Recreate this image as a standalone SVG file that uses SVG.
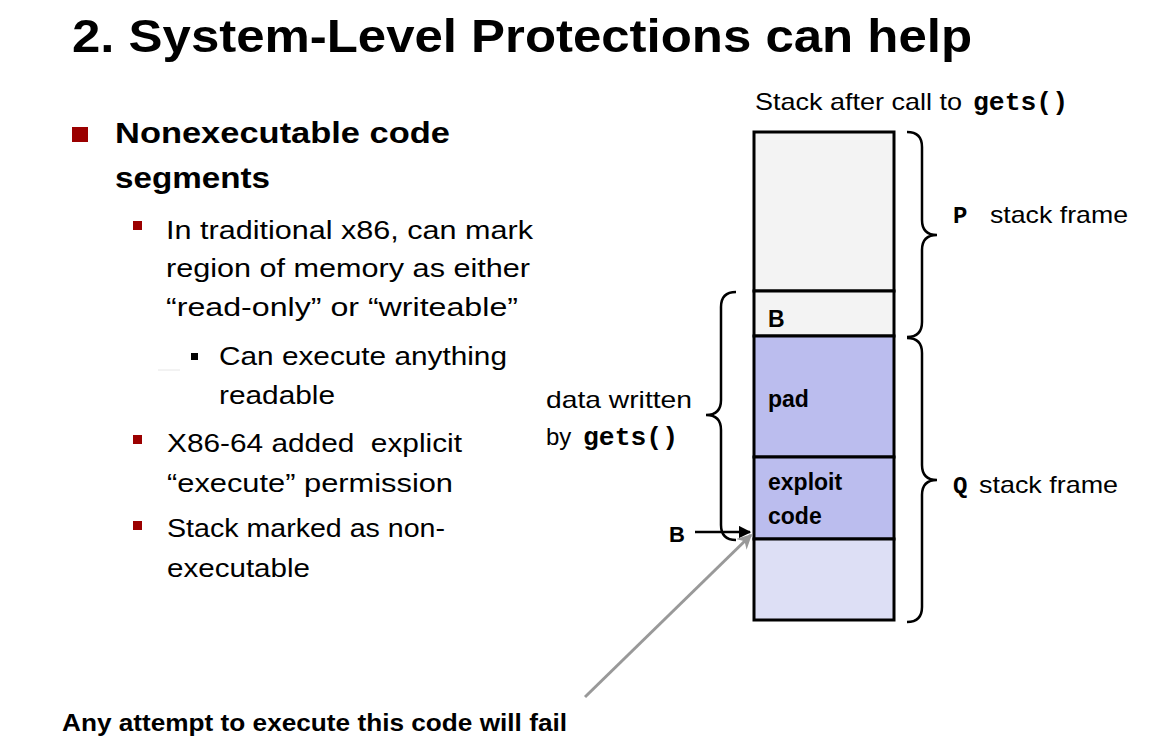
<svg xmlns="http://www.w3.org/2000/svg" width="1174" height="745" viewBox="0 0 1174 745">
<style>
.t{font-family:"Liberation Sans",Arial,sans-serif;fill:#000}
.b{font-weight:bold}
.m{font-family:"Liberation Mono","Courier New",monospace;font-weight:bold;fill:#000}
.cell{stroke:#000;stroke-width:3}
.brace{fill:none;stroke:#000;stroke-width:2.5}
.red{fill:#9b0000}
</style>
<defs>
<marker id="ah" viewBox="0 0 10 10" refX="9" refY="5" markerWidth="5" markerHeight="5" orient="auto" markerUnits="strokeWidth"><path d="M0,0 L10,5 L0,10 z" fill="#000"/></marker>
<marker id="ag" viewBox="0 0 10 10" refX="9" refY="5" markerWidth="5" markerHeight="5" orient="auto" markerUnits="strokeWidth"><path d="M0,0 L10,5 L0,10 L3,5 z" fill="#999"/></marker>
</defs>
<rect width="1174" height="745" fill="#fff"/>
<g id="title"><text class="t b" x="72" y="52" font-size="46" textLength="900" lengthAdjust="spacingAndGlyphs">2. System-Level Protections can help</text></g>
<g id="bullets">
<rect class="red" x="72" y="127" width="16" height="15"/>
<text class="t b" x="115" y="143" font-size="29" textLength="335" lengthAdjust="spacingAndGlyphs">Nonexecutable code</text>
<text class="t b" x="115" y="188" font-size="29" textLength="155" lengthAdjust="spacingAndGlyphs">segments</text>
<rect class="red" x="133" y="221" width="9" height="9"/>
<text class="t" x="166" y="239" font-size="26" textLength="367" lengthAdjust="spacingAndGlyphs">In traditional x86, can mark</text>
<text class="t" x="166" y="277" font-size="26" textLength="364" lengthAdjust="spacingAndGlyphs">region of memory as either</text>
<text class="t" x="166" y="316" font-size="26" textLength="352" lengthAdjust="spacingAndGlyphs">“read-only” or “writeable”</text>
<line x1="158" y1="370" x2="180" y2="370" stroke="#e6e6e6" stroke-width="1"/>
<rect x="191" y="353" width="7" height="7" fill="#000"/>
<text class="t" x="219" y="365" font-size="26" textLength="288" lengthAdjust="spacingAndGlyphs">Can execute anything</text>
<text class="t" x="219" y="404" font-size="26" textLength="116" lengthAdjust="spacingAndGlyphs">readable</text>
<rect class="red" x="133" y="435" width="9" height="9"/>
<text class="t" x="167" y="452" font-size="26" textLength="295" lengthAdjust="spacingAndGlyphs" xml:space="preserve">X86-64 added  explicit</text>
<text class="t" x="167" y="492" font-size="26" textLength="286" lengthAdjust="spacingAndGlyphs">“execute” permission</text>
<rect class="red" x="133" y="521" width="9" height="9"/>
<text class="t" x="167" y="537" font-size="26" textLength="278" lengthAdjust="spacingAndGlyphs">Stack marked as non-</text>
<text class="t" x="167" y="577" font-size="26" textLength="143" lengthAdjust="spacingAndGlyphs">executable</text>
</g>
<g id="stack-caption">
<text class="t" x="755" y="110" font-size="24" textLength="207" lengthAdjust="spacingAndGlyphs">Stack after call to</text>
<text class="m" x="973" y="110" font-size="26" textLength="95" lengthAdjust="spacingAndGlyphs">gets()</text>
</g>
<g id="cell-top"><rect class="cell" x="754" y="132" width="140" height="159" fill="#f3f3f3"/></g>
<g id="cell-B"><rect class="cell" x="754" y="291" width="140" height="45" fill="#f3f3f3"/><text class="t b" x="768" y="327" font-size="23">B</text></g>
<g id="cell-pad"><rect class="cell" x="754" y="336" width="140" height="121" fill="#bbbdee"/><text class="t b" x="768" y="407" font-size="23">pad</text></g>
<g id="cell-exploit"><rect class="cell" x="754" y="457" width="140" height="82" fill="#bbbdee"/><text class="t b" x="768" y="490" font-size="23">exploit</text><text class="t b" x="768" y="524" font-size="23">code</text></g>
<g id="cell-bottom"><rect class="cell" x="754" y="539" width="140" height="81" fill="#dddff5"/></g>
<g id="brace-P">
<path class="brace" d="M907,132 Q922,132 922,147 L922,220 Q922,235 937,235 Q922,235 922,250 L922,322 Q922,337 907,337"/>
<text class="m" x="953" y="223" font-size="24">P</text>
<text class="t" x="990" y="223" font-size="24" textLength="138" lengthAdjust="spacingAndGlyphs">stack frame</text>
</g>
<g id="brace-Q">
<path class="brace" d="M907,338 Q922,338 922,353 L922,465 Q922,480 937,480 Q922,480 922,495 L922,607 Q922,622 907,622"/>
<text class="m" x="953" y="493" font-size="24">Q</text>
<text class="t" x="979" y="493" font-size="24" textLength="139" lengthAdjust="spacingAndGlyphs">stack frame</text>
</g>
<g id="brace-data">
<path class="brace" d="M736,292 Q721,292 721,307 L721,400 Q721,415 706,415 Q721,415 721,430 L721,525 Q721,540 736,540"/>
<text class="t" x="546" y="408" font-size="24" textLength="146" lengthAdjust="spacingAndGlyphs">data written</text>
<text class="t" x="546" y="445" font-size="24">by</text>
<text class="m" x="583" y="445" font-size="26" textLength="95" lengthAdjust="spacingAndGlyphs">gets()</text>
</g>
<g id="label-B"><text class="t b" x="669" y="542" font-size="22">B</text></g>
<g id="note"><text class="t b" x="62" y="731" font-size="23" textLength="505" lengthAdjust="spacingAndGlyphs">Any attempt to execute this code will fail</text></g>
<g id="connectors">
<line x1="695" y1="532" x2="750" y2="532" stroke="#000" stroke-width="2.5" marker-end="url(#ah)"/>
<line x1="585" y1="697" x2="751" y2="535" stroke="#999" stroke-width="3" marker-end="url(#ag)"/>
</g>
</svg>
